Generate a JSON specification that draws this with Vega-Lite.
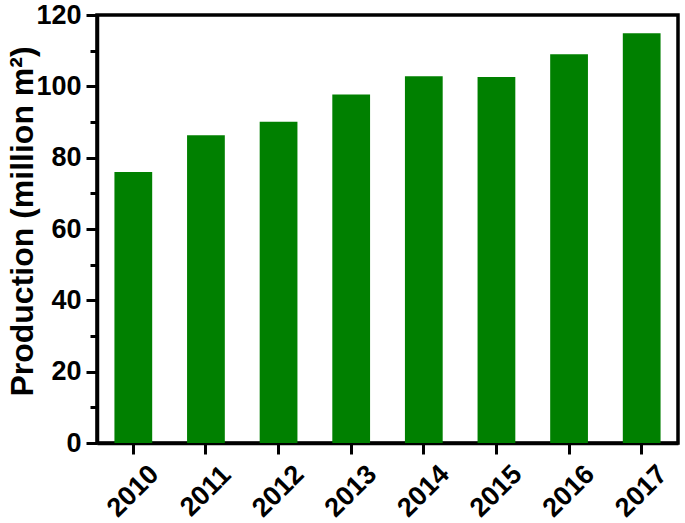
{
  "$schema": "https://vega.github.io/schema/vega-lite/v6.json",
  "width": 581,
  "height": 428,
  "autosize": "none",
  "padding": {"left": 97, "top": 15, "right": 7, "bottom": 80},
  "background": "white",
  "config": {
    "view": {"stroke": "black", "strokeWidth": 3.5},
    "font": "Liberation Sans"
  },
  "data": {
    "values": [
      {"year": "2010", "production": 76.0},
      {"year": "2011", "production": 86.3},
      {"year": "2012", "production": 90.1},
      {"year": "2013", "production": 97.7},
      {"year": "2014", "production": 102.8},
      {"year": "2015", "production": 102.6},
      {"year": "2016", "production": 109.0},
      {"year": "2017", "production": 114.9}
    ]
  },
  "mark": {"type": "bar", "color": "#008000"},
  "encoding": {
    "x": {
      "field": "year",
      "type": "ordinal",
      "scale": {"paddingInner": 0.48, "paddingOuter": 0.24},
      "axis": {
        "title": null,
        "labelAngle": -45,
        "labelAlign": "center",
        "labelBaseline": "middle",
        "labelPadding": 37,
        "labelFont": "Liberation Sans",
        "labelFontSize": 27,
        "labelFontWeight": "bold",
        "labelColor": "black",
        "tickSize": 11,
        "tickWidth": 3,
        "tickColor": "black",
        "domainColor": "black",
        "domainWidth": 3.5
      }
    },
    "y": {
      "field": "production",
      "type": "quantitative",
      "scale": {"domain": [0, 120], "nice": false},
      "axis": {
        "values": [0, 10, 20, 30, 40, 50, 60, 70, 80, 90, 100, 110, 120],
        "labelExpr": "datum.value % 20 === 0 ? datum.label : ''",
        "tickSize": {"condition": {"test": "datum.value % 20 === 0", "value": 11}, "value": 7},
        "tickWidth": 3,
        "tickColor": "black",
        "domainColor": "black",
        "domainWidth": 3.5,
        "grid": false,
        "labelFont": "Liberation Sans",
        "labelFontSize": 27,
        "labelFontWeight": "bold",
        "labelColor": "black",
        "labelPadding": 5,
        "title": "Production (million m²)",
        "titleFont": "Liberation Sans",
        "titleFontSize": 32,
        "titleFontWeight": "bold",
        "titleColor": "black",
        "titleAngle": -90,
        "titleAlign": "center",
        "titleBaseline": "alphabetic",
        "titleX": -65,
        "titleY": 206
      }
    }
  }
}
